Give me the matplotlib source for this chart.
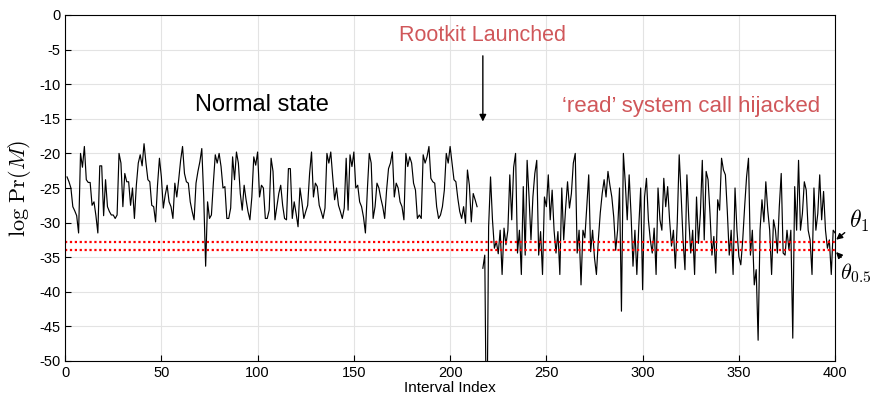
import numpy as np
import matplotlib
matplotlib.use("Agg")
import matplotlib.pyplot as plt

plt.rcParams['font.family'] = ['Liberation Sans', 'DejaVu Sans']
plt.rcParams['mathtext.fontset'] = 'cm'
plt.rcParams['axes.unicode_minus'] = False

# 正常状態 (interval 1..214)
normal_start = 1
normal_vals = [
    -23.4, -24.1, -25, -27.7, -28.3, -29, -31.5, -20, -22, -19,
    -23.8, -24.2, -24.2, -27.5, -27, -29, -31.5, -21.8, -21.8, -29,
    -23.8, -27.7, -28.4, -28.9, -28.9, -29.4, -28.9, -20, -21.4, -27.7,
    -22.9, -24.1, -24.1, -27.5, -25, -29.4, -24.6, -21.4, -20.2, -21.8,
    -18.6, -21.4, -23.8, -24.1, -27.5, -27.7, -29.9, -24.6, -20.7,
    # 50..98
    -23.4, -27.9, -26, -24.6, -27, -27.7, -29.4, -24.3, -26.3, -23.8,
    -21, -19, -22.9, -24.1, -24.3, -27, -28.4, -29.6, -24.3, -22.6,
    -21.2, -19.3, -26.3, -36.3, -27, -29.4, -28.9, -24.3, -20.2, -21.4,
    -20, -21.9, -25, -24.8, -29.4, -29.4, -27.9, -20.5, -23.8, -19.8,
    -21.4, -25.8, -28.2, -24.6, -26.7, -28.4, -29.6, -26.3, -20.5,
    # 99..146
    -21.7, -19.8, -26.3, -24.6, -25, -29.4, -29.4, -28.2, -20.7, -22.6,
    -29.6, -27.7, -25.8, -24.6, -27.5, -29.4, -29.6, -22.2, -22.2, -29.4,
    -27, -28.7, -30.6, -25, -27, -29.4, -28.4, -27.5, -22.9, -19.8,
    -26.3, -24.3, -24.8, -27.5, -28.4, -29.4, -27.9, -20, -21.4, -19.8,
    -23.4, -26.7, -25, -27.5, -28.4, -29.4, -27.9, -20.7,
    # 147..196
    -28.2, -20.2, -21.9, -19.8, -25, -24.6, -27, -27.7, -29.2, -31.5,
    -25.3, -20, -21.4, -29.4, -27.7, -24.3, -25, -26.5, -27.7, -29.4,
    -25.3, -22.2, -21.4, -19.8, -26.3, -24.3, -25, -27, -27.7, -29.6,
    -20, -21.9, -20.5, -21.4, -24.3, -25.3, -29.4, -28.9, -29.4, -20.2,
    -21.4, -20.5, -19, -23.6, -24.1, -24.3, -27.7, -29.4, -28.9, -27.7,
    # 197..214
    -25.3, -20, -21.4, -19, -21.4, -23.8, -24.1, -26.5, -28.4, -29.4,
    -27.7, -30.1, -22.4, -24.6, -29.9, -25.8, -26.7, -27.7,
]

# read システムコール乗っ取り後 (interval 217..400)
attack_start = 217
attack_vals = [
    -36.6, -34.7, -65, -30.6, -23.4, -29.6, -33.7, -32.7, -34.5, -31.1,
    -37.5, -30.8, -33.2, -31.1, -23.1, -29.6, -22.0, -20.0, -34.4, -31.1,
    -37.5, -24.8, -34.7, -21.0, -26.3, -32.5, -26.3, -22.9, -21.0, -34.7,
    # 247..295
    -31.3, -37.5, -26.3, -27.7, -23.1, -29.6, -25.3, -31.1, -34.4, -31.3,
    -37.5, -25, -32.5, -27.9, -24.1, -27.9, -25.8, -21.4, -20, -34.4,
    -31.1, -39, -31.1, -32.2, -27.7, -23.1, -34.2, -31.1, -35.1, -37.5,
    -32.5, -28.6, -25.8, -23.8, -26.3, -22.6, -24.6, -26.3, -29.2, -34,
    -31.1, -25, -42.8, -20, -24.3, -29.6, -23.1, -28.9, -36.3,
    # 296..345
    -31.1, -37.5, -30.6, -25, -39.7, -26.3, -23.6, -29.6, -32.5, -34.4,
    -30.8, -37.5, -25, -29.6, -31.1, -23.6, -27.7, -24.8, -29.6, -33.4,
    -31.1, -36.6, -29.9, -20.2, -26, -32.5, -36.8, -23.1, -29.6, -34.4,
    -31.1, -37.5, -26.3, -33, -28.7, -21, -32.5, -22.6, -23.8, -28.7,
    -34.7, -32, -37.3, -26.7, -28.2, -20.7, -22.4, -23.1, -28.4, -34.7,
    # 346..400
    -31.1, -37.5, -25, -31.1, -34.9, -36.1, -32.5, -27.7, -23.4, -20.7,
    -34.7, -31.1, -39, -36.8, -47,
    -31.1, -26.7, -29.9, -24.1, -28.2, -31.1, -37.5, -29.6, -31.1, -34.4,
    -27.7, -22.9, -34.4, -34.7, -31.1, -33.9, -31.1, -46.7,
    -24.8, -31.1, -21, -31.1, -28.7, -24.1, -25.3, -31.1, -32.5, -37.5,
    -25, -31.1, -28.7, -23.1, -29.6, -25.5, -31.1, -33.7, -32.5, -37.5,
    -31.1, -31.5,
]

theta_1 = -32.8
theta_05 = -33.9

red_txt = '#D0575A'

x_n = np.arange(normal_start, normal_start + len(normal_vals))
x_a = np.arange(attack_start, attack_start + len(attack_vals))

fig = plt.figure(figsize=(8.8, 4.0), dpi=100)
ax = fig.add_axes([0.074, 0.0975, 0.875, 0.865])

ax.plot(x_n, normal_vals, color='black', lw=0.85)
ax.plot(x_a, attack_vals, color='black', lw=0.85)

# しきい値
ax.plot([0, 400], [theta_1, theta_1], color='red', lw=1.6, ls=(0, (1, 1.2)))
ax.plot([0, 400], [theta_05, theta_05], color='red', lw=1.6, ls=(0, (1, 1.2)))

ax.set_xlim(0, 400)
ax.set_ylim(-50, 0)
ax.set_xticks(np.arange(0, 401, 50))
ax.set_yticks(np.arange(-50, 1, 5))
ax.set_yticklabels([str(v) for v in range(-50, 1, 5)])
ax.grid(True, color='#e3e3e3', lw=0.8)
ax.set_axisbelow(True)
ax.tick_params(direction='in', labelsize=10.5, length=4, top=False, right=False)
for s in ax.spines.values():
    s.set_linewidth(0.8)

ax.set_xlabel('Interval Index', fontsize=11, labelpad=1)
ax.set_ylabel(r'$\log\,\mathrm{Pr}(M)$', fontsize=16, labelpad=4)

ax.text(102, -13, 'Normal state', fontsize=17, ha='center', va='center')
ax.text(217, -3, 'Rootkit Launched', fontsize=15.5, color=red_txt,
        ha='center', va='center')
ax.text(325, -13.2, '\u2018read\u2019 system call hijacked', fontsize=16,
        color=red_txt, ha='center', va='center')
ax.annotate('', xy=(217, -15.8), xytext=(217, -5.5),
            arrowprops=dict(arrowstyle='-|>', color='black', lw=1,
                            mutation_scale=10))

ax.annotate(r'$\theta_1$', xy=(400, theta_1 + 0.2), xytext=(407, -29.8),
            fontsize=17, ha='left', va='center', annotation_clip=False,
            arrowprops=dict(arrowstyle='-|>', color='black', lw=1,
                            mutation_scale=9, shrinkA=1, shrinkB=1))
ax.annotate(r'$\theta_{0.5}$', xy=(400, theta_05 - 0.2), xytext=(402.5, -37.3),
            fontsize=16, ha='left', va='center', annotation_clip=False,
            arrowprops=dict(arrowstyle='-|>', color='black', lw=1,
                            mutation_scale=9, shrinkA=1, shrinkB=1))

fig.savefig('out.png', dpi=100)
